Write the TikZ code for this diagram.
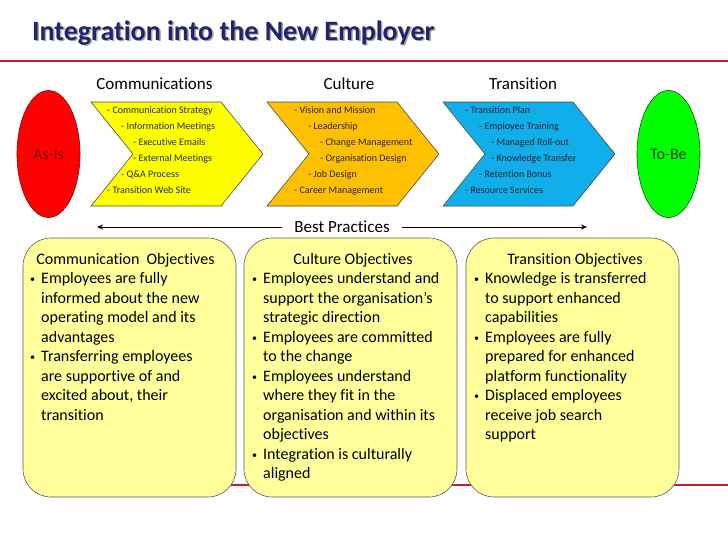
\documentclass[tikz,border=0pt]{standalone}
\usepackage{fontspec}
\setmainfont{Carlito}[Ligatures=NoCommon]
\usetikzlibrary{shapes.geometric, arrows.meta}

\definecolor{titleblue}{HTML}{22236C}
\definecolor{rulered}{HTML}{C8202A}
\definecolor{chevyellow}{HTML}{FFFF00}
\definecolor{chevorange}{HTML}{FFC000}
\definecolor{chevblue}{HTML}{10AEEA}
\definecolor{boxyellow}{HTML}{FFFF9C}
\definecolor{asisred}{HTML}{FF0000}
\definecolor{tobegreen}{HTML}{00FF00}

\newcommand{\bul}{\makebox[11pt][l]{\fontsize{10}{10}\selectfont\raisebox{1pt}{\textbullet}}}
\newcommand{\ind}{\hspace*{11pt}}

\begin{document}
\begin{tikzpicture}[x=1pt, y=-1pt,
    chev/.style={draw=black!70, line width=0.6pt},
    chevtxt/.style={anchor=base west, inner sep=0pt, font=\fontsize{10}{12}\selectfont, text=black!85},
    heading/.style={anchor=base, inner sep=0pt, font=\fontsize{17}{20}\selectfont},
    state/.style={ellipse, minimum width=63pt, minimum height=127pt, inner sep=0pt, line width=0.6pt, font=\fontsize{16}{19}\selectfont},
    objbox/.style={draw=black!65, fill=boxyellow, rounded corners=28pt, line width=0.6pt},
    objtxt/.style={anchor=base west, inner sep=0pt, font=\fontsize{16}{19.5}\selectfont},
    objtitle/.style={anchor=base, inner sep=0pt, font=\fontsize{16}{19.5}\selectfont}]
  \useasboundingbox (0,0) rectangle (728,546);
  % title
  \node [anchor=base west, inner sep=0pt, text=black!35, font=\fontsize{28}{32}\selectfont\bfseries] (titleshadow) at (33.5,41.5) {Integration into the New Employer};
  \node [anchor=base west, inner sep=0pt, text=titleblue, font=\fontsize{28}{32}\selectfont\bfseries] (title) at (32,40) {Integration into the New Employer};
  \draw [rulered, line width=2.5pt] (0,61) -- (728,61);
  % chevrons
  \foreach \x/\c in {91/chevyellow, 267/chevorange, 443/chevblue}
    \draw [chev, fill=\c] (\x,102) -- ({\x+130},102) -- ({\x+172},154) -- ({\x+130},206) -- (\x,206) -- ({\x+42},154) -- cycle;
  \node [heading] (commhead)  at (154.5,89) {Communications};
  \node [heading] (culthead)  at (349,89)   {Culture};
  \node [heading] (transhead) at (523,89)   {Transition};
  % Communications
  \foreach \t/\dx [count=\i] in {- Communication Strategy/16, - Information Meetings/30, - Executive Emails/42, - External Meetings/42, - Q\&A Process/30, - Transition Web Site/16}
    \node [chevtxt] (commitem\i) at ({91+\dx}, {113.5+16*(\i-1)}) {\t};
  % Culture
  \foreach \t/\dx [count=\i] in {- Vision and Mission/27, - Leadership/41, - Change Management/53, - Organisation Design/53, - Job Design/41, - Career Management/27}
    \node [chevtxt] (cultitem\i) at ({267+\dx}, {113.5+16*(\i-1)}) {\t};
  % Transition
  \foreach \t/\dx [count=\i] in {- Transition Plan/22, - Employee Training/36, - Managed Roll-out/48, - Knowledge Transfer/48, - Retention Bonus/36, - Resource Services/22}
    \node [chevtxt] (transitem\i) at ({443+\dx}, {113.5+16*(\i-1)}) {\t};
  % As-Is, To-Be
  \node [state, draw=red!55!black, fill=asisred, text=red!45!black] (asis) at (48.5,154) {As-Is};
  \node [state, draw=green!35!black, fill=tobegreen, text=green!25!black] (tobe) at (668.5,154) {To-Be};
  % best practices
  \node [inner xsep=12pt, inner ysep=0pt, font=\fontsize{17}{20}\selectfont] (bp) at (342,227) {Best Practices};
  \coordinate (bpleft) at (97,227);
  \coordinate (bpright) at (587,227);
  \draw [-{Stealth[length=6pt, width=5pt]}] (bp.west) -- (bpleft);
  \draw [-{Stealth[length=6pt, width=5pt]}] (bp.east) -- (bpright);
  % objectives
  \draw [rulered, line width=2.5pt] (150,485) -- (728,485);
  \foreach \x in {23, 244, 466}
    \draw [objbox] (\x,238) rectangle ({\x+213},497);
  \node [objtitle] (commobj)  at (125.5,264) {Communication\ \ Objectives};
  \node [objtitle] (cultobj)  at (353,264)   {Culture Objectives};
  \node [objtitle] (transobj) at (575,264)   {Transition Objectives};
  \foreach \t [count=\i] in {{\bul Employees are fully}, {\ind informed about the new}, {\ind operating model and its}, {\ind advantages}, {\bul Transferring employees}, {\ind are supportive of and}, {\ind excited about, their}, {\ind transition}}
    \node [objtxt] (commline\i) at (30, {283.5+19.5*(\i-1)}) {\t};
  \foreach \t [count=\i] in {{\bul Employees understand and}, {\ind support the organisation’s}, {\ind strategic direction}, {\bul Employees are committed}, {\ind to the change}, {\bul Employees understand}, {\ind where they fit in the}, {\ind organisation and within its}, {\ind objectives}, {\bul Integration is culturally}, {\ind aligned}}
    \node [objtxt] (cultline\i) at (252, {283.5+19.5*(\i-1)}) {\t};
  \foreach \t [count=\i] in {{\bul Knowledge is transferred}, {\ind to support enhanced}, {\ind capabilities}, {\bul Employees are fully}, {\ind prepared for enhanced}, {\ind platform functionality}, {\bul Displaced employees}, {\ind receive job search}, {\ind support}}
    \node [objtxt] (transline\i) at (474, {283.5+19.5*(\i-1)}) {\t};
\end{tikzpicture}
\end{document}
